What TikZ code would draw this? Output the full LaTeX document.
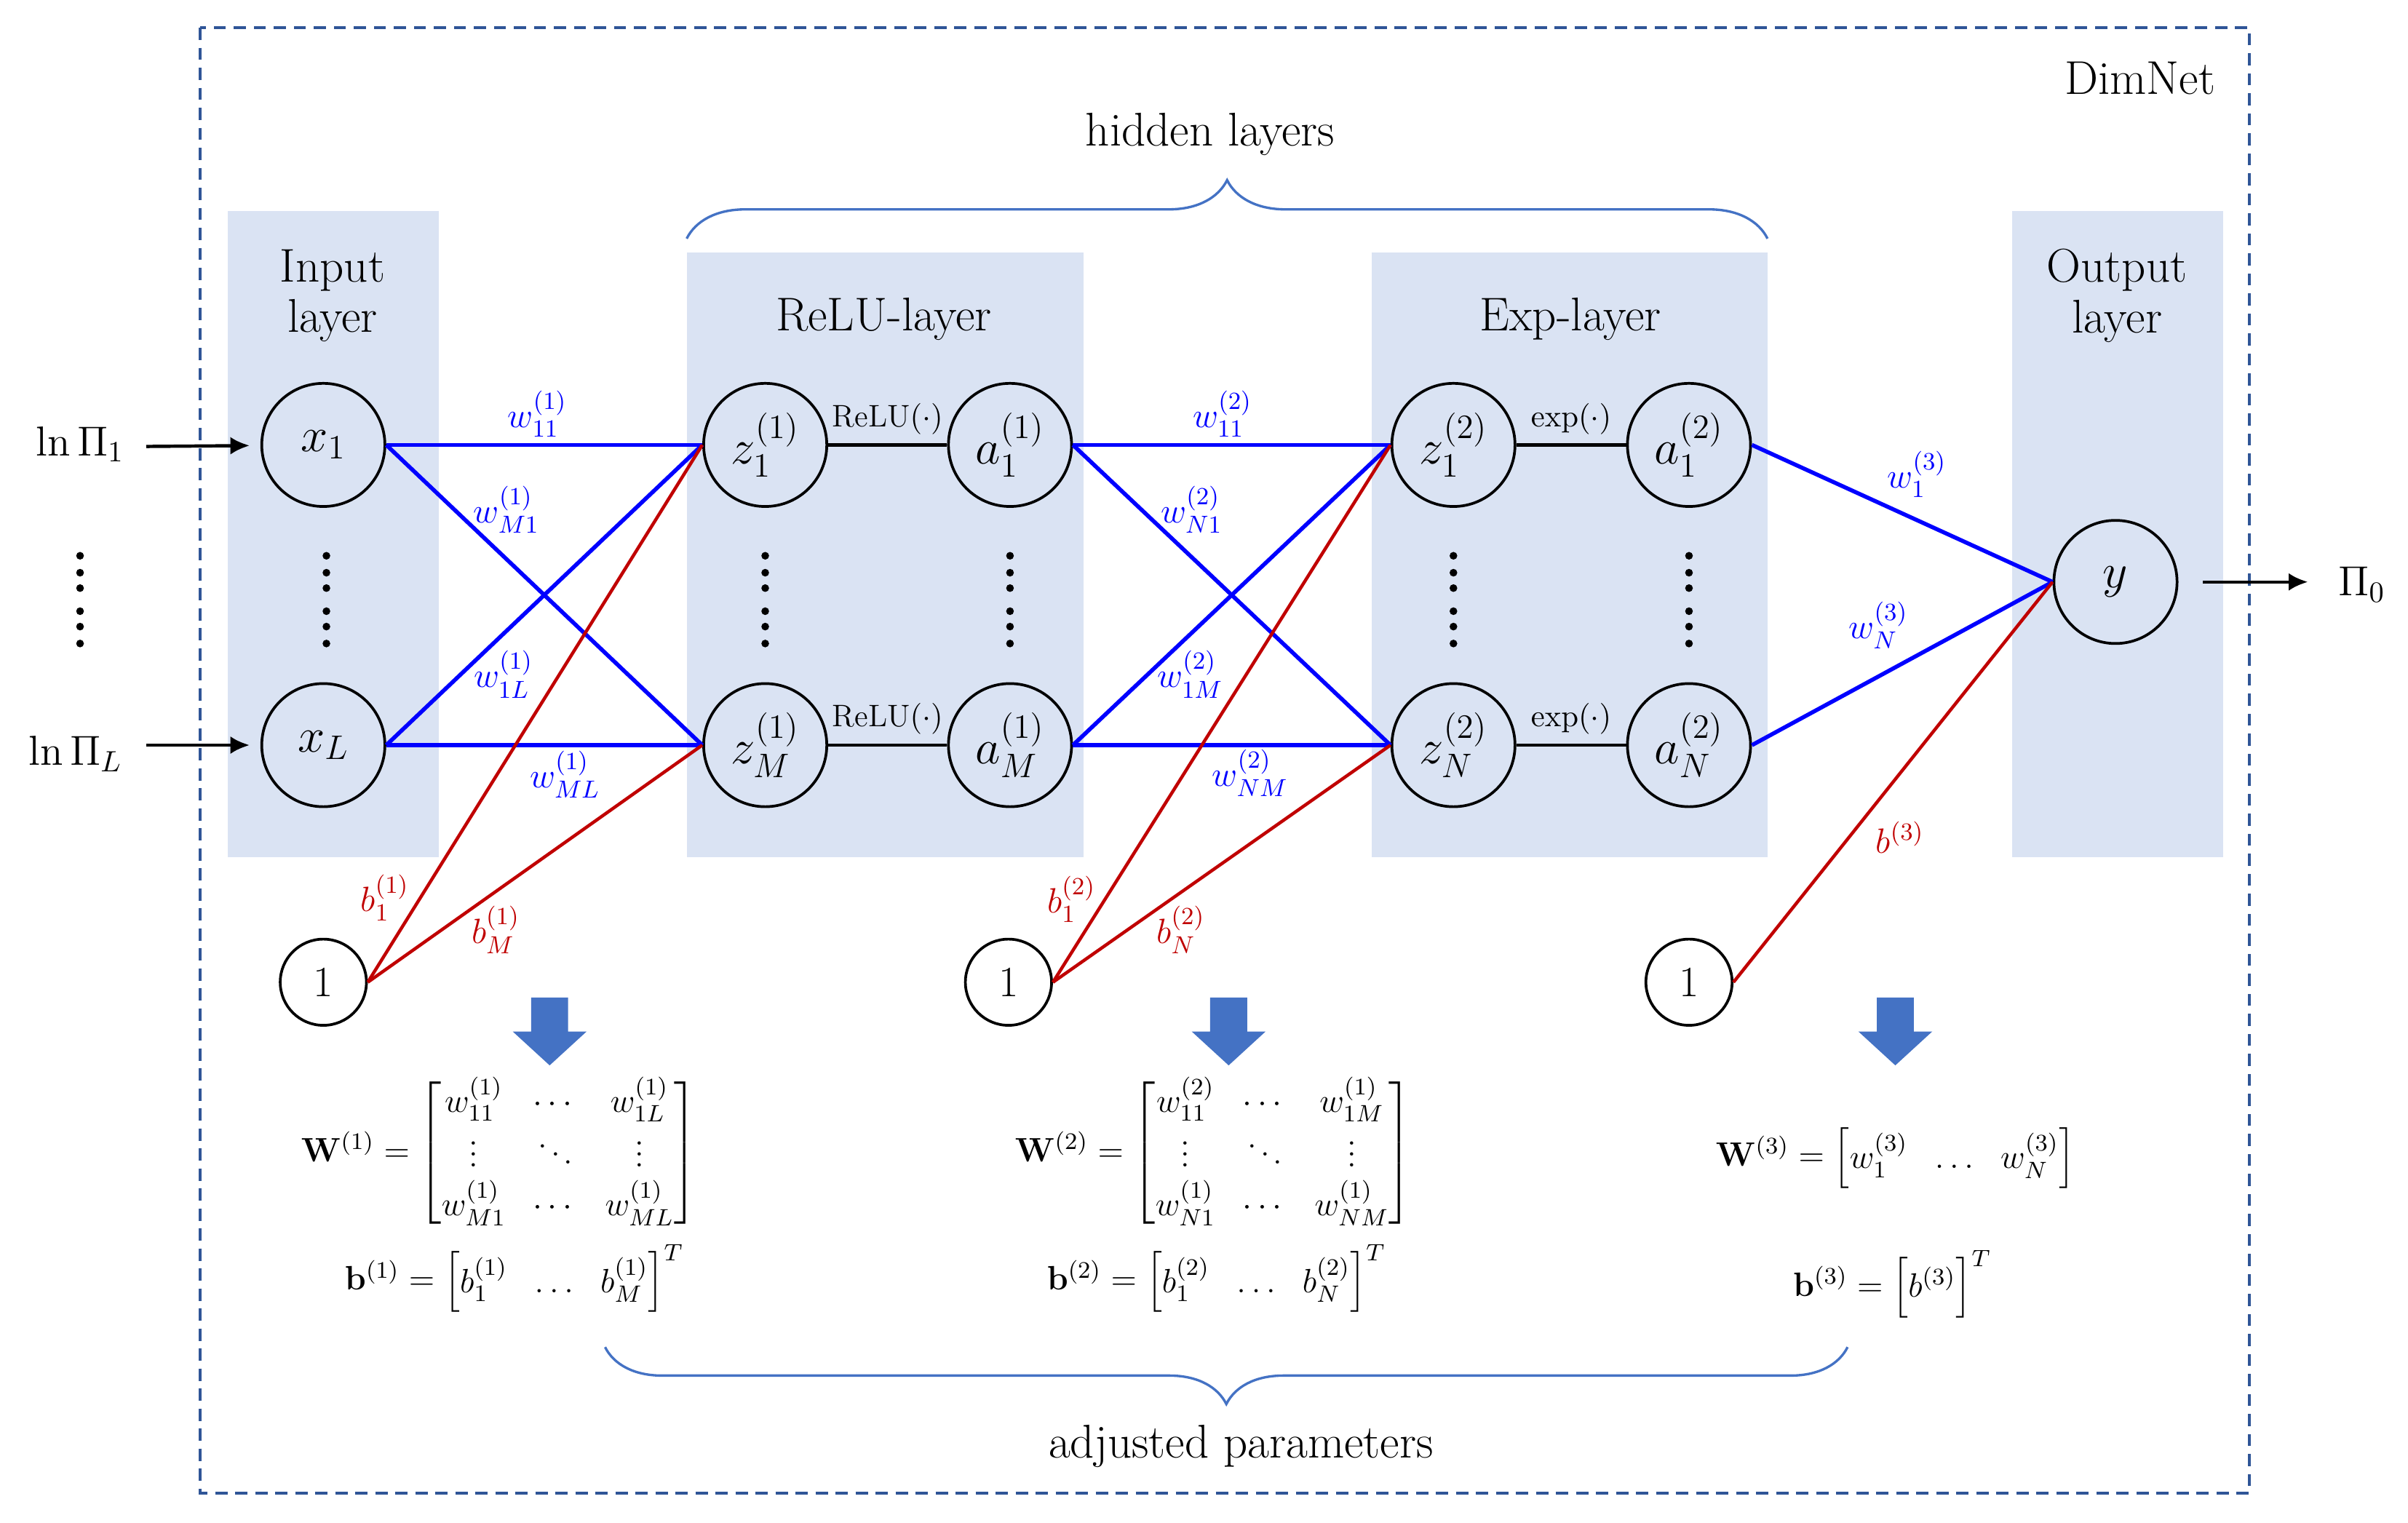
\RequirePackage{fix-cm}
\documentclass[tikz,border=0pt]{standalone}
\usepackage{amsmath,amssymb,xcolor}
\usepackage{tikz}
\usetikzlibrary{decorations.pathreplacing,arrows.meta}
\renewcommand{\arraystretch}{1.12}

\definecolor{boxblue}{HTML}{DAE3F3}
\definecolor{wblue}{HTML}{0000FF}
\definecolor{bred}{HTML}{C00000}
\definecolor{arrowblue}{HTML}{4472C4}
\definecolor{framecol}{HTML}{2F5597}

\tikzset{
    neuron/.style={circle, draw, line width=1pt, minimum size=1.6cm, inner sep=0pt,
      font=\fontsize{18}{21}\selectfont},
    one/.style={circle, draw, line width=1pt, minimum size=1.12cm, inner sep=0pt,
      font=\fontsize{16}{19}\selectfont},
    layerbox/.style={fill=boxblue},
    title/.style={font=\fontsize{17.5}{18.7}\selectfont, align=center},
    wline/.style={wblue, line width=1.5pt},
    bline/.style={bred, line width=1.2pt},
    wlab/.style={text=wblue, font=\fontsize{13}{15}\selectfont},
    blab/.style={text=bred, font=\fontsize{13}{15}\selectfont},
    act/.style={line width=1.2pt},
    actlab/.style={font=\fontsize{11.5}{13}\selectfont, above, midway},
    io/.style={font=\fontsize{15.5}{18}\selectfont},
    param/.style={font=\fontsize{12.5}{15}\selectfont},
    ioarrow/.style={-{Latex[length=0.25cm,width=0.23cm]}, line width=1.2pt},
    hbrace/.style={arrowblue, line width=0.9pt, decorate},
}

\begin{document}
\begin{tikzpicture}[x=0.02cm, y=-0.02cm]
    \useasboundingbox (0,0) rectangle (1564,989);

    % frame
    \draw[framecol, line width=1.1pt, dash pattern=on 0.16cm off 0.1cm] (130,18) rectangle (1461,970);
    \node[title, anchor=base east] (dimnet) at (1445,61) {DimNet};

    % layer boxes
    \fill[layerbox] (148,137) rectangle (285,557);
    \fill[layerbox] (446,164) rectangle (704,557);
    \fill[layerbox] (891,164) rectangle (1148,557);
    \fill[layerbox] (1307,137) rectangle (1444,557);
    \node[title] (tin) at (216,192) {Input\\layer};
    \node[title, anchor=base] (trelu) at (574,215) {ReLU-layer};
    \node[title, anchor=base] (texp) at (1020,215) {Exp-layer};
    \node[title] (tout) at (1375,192) {Output\\layer};

    % braces
    \draw[hbrace, decoration={brace, amplitude=0.76cm}] (446,155) -- (1148,155);
    \node[title, anchor=base] (hidden) at (786,95) {hidden layers};
    \draw[hbrace, decoration={brace, amplitude=0.74cm}] (1200,875) -- (393,875);
    \node[title, anchor=base] (adjusted) at (806,947) {adjusted parameters};

    % neurons
    \node[neuron] (x1) at (210,289) {$x_1$};
    \node[neuron] (xL) at (210,484) {$x_L$};
    \node[neuron] (z1) at (497,289) {$z_1^{(1)}$};
    \node[neuron] (zM) at (497,484) {$z_M^{(1)}$};
    \node[neuron] (a1) at (656,289) {$a_1^{(1)}$};
    \node[neuron] (aM) at (656,484) {$a_M^{(1)}$};
    \node[neuron] (u1) at (944,289) {$z_1^{(2)}$};
    \node[neuron] (uN) at (944,484) {$z_N^{(2)}$};
    \node[neuron] (e1) at (1097,289) {$a_1^{(2)}$};
    \node[neuron] (eN) at (1097,484) {$a_N^{(2)}$};
    \node[neuron] (y) at (1374,378) {$y$};
    \node[one] (one1) at (210,638) {1};
    \node[one] (one2) at (655,638) {1};
    \node[one] (one3) at (1097,638) {1};

    % vertical dots
    \foreach \px in {52,212,497,656,944,1097}
      \foreach \py in {361,372,382,397,407,418}
        \fill (\px,\py) circle[radius=0.05cm];

    % inputs and output
    \coordinate (in1) at (95,290);
    \coordinate (inL) at (95,484);
    \coordinate (out) at (1499,378);
    \draw[ioarrow, shorten >=0.14cm] (in1) -- (x1);
    \draw[ioarrow, shorten >=0.14cm] (inL) -- (xL);
    \draw[ioarrow, shorten <=0.32cm] (y) -- (out);
    \node[io, anchor=base] (lnpi1) at (52,296) {$\ln\Pi_1$};
    \node[io, anchor=base] (lnpiL) at (49,497) {$\ln\Pi_L$};
    \node[io, anchor=base] (pi0) at (1534,387) {$\Pi_0$};

    % layer 1
    \draw[wline] (x1.east) -- (z1.west);
    \draw[wline] (x1.east) -- (zM.west);
    \draw[wline] (xL.east) -- (z1.west);
    \draw[wline] (xL.east) -- (zM.west);
    \draw[bline] (one1.east) -- (z1.west);
    \draw[bline] (one1.east) -- (zM.west);
    \draw[act] (z1) -- node[actlab] (relu1) {ReLU$(\cdot)$} (a1);
    \draw[act] (zM) -- node[actlab] (reluM) {ReLU$(\cdot)$} (aM);
    \node[wlab] (w11a) at (349,269) {$w_{11}^{(1)}$};
    \node[wlab] (wM1a) at (329,331) {$w_{M1}^{(1)}$};
    \node[wlab] (w1La) at (327,438) {$w_{1L}^{(1)}$};
    \node[wlab] (wMLa) at (367,503) {$w_{ML}^{(1)}$};
    \node[blab] (b1a) at (250,583) {$b_1^{(1)}$};
    \node[blab] (bMa) at (322,604) {$b_M^{(1)}$};

    % layer 2
    \draw[wline] (a1.east) -- (u1.west);
    \draw[wline] (a1.east) -- (uN.west);
    \draw[wline] (aM.east) -- (u1.west);
    \draw[wline] (aM.east) -- (uN.west);
    \draw[bline] (one2.east) -- (u1.west);
    \draw[bline] (one2.east) -- (uN.west);
    \draw[act] (u1) -- node[actlab] (exp1) {$\exp(\cdot)$} (e1);
    \draw[act] (uN) -- node[actlab] (expN) {$\exp(\cdot)$} (eN);
    \node[wlab] (w11b) at (794,269) {$w_{11}^{(2)}$};
    \node[wlab] (wN1b) at (774,331) {$w_{N1}^{(2)}$};
    \node[wlab] (w1Mb) at (773,438) {$w_{1M}^{(2)}$};
    \node[wlab] (wNMb) at (812,502) {$w_{NM}^{(2)}$};
    \node[blab] (b1b) at (696,584) {$b_1^{(2)}$};
    \node[blab] (bNb) at (767,604) {$b_N^{(2)}$};

    % layer 3
    \draw[wline] (e1.east) -- (y.west);
    \draw[wline] (eN.east) -- (y.west);
    \draw[bline] (one3.east) -- (y.west);
    \node[wlab] (w1c) at (1245,308) {$w_1^{(3)}$};
    \node[wlab] (wNc) at (1220,406) {$w_N^{(3)}$};
    \node[blab] (bc) at (1234,544) {$b^{(3)}$};

    % block arrows
    \foreach \ax in {357,798,1231}
      \fill[arrowblue] ({\ax-12},648) -- ({\ax+12},648) -- ({\ax+12},670) -- ({\ax+24},670)
        -- (\ax,692) -- ({\ax-24},670) -- ({\ax-12},670) -- cycle;

    % parameters
    \node[param] (W1) at (324,749) {$\mathbf{W}^{(1)} = \begin{bmatrix} w_{11}^{(1)} & \cdots & w_{1L}^{(1)} \\ \vdots & \ddots & \vdots \\ w_{M1}^{(1)} & \cdots & w_{ML}^{(1)} \end{bmatrix}$};
    \node[param, anchor=base] (bv1) at (334,838) {$\mathbf{b}^{(1)} = \begin{bmatrix} b_1^{(1)} & \ldots & b_M^{(1)} \end{bmatrix}^T$};
    \node[param] (W2) at (788,749) {$\mathbf{W}^{(2)} = \begin{bmatrix} w_{11}^{(2)} & \cdots & w_{1M}^{(1)} \\ \vdots & \ddots & \vdots \\ w_{N1}^{(1)} & \cdots & w_{NM}^{(1)} \end{bmatrix}$};
    \node[param, anchor=base] (bv2) at (790,838) {$\mathbf{b}^{(2)} = \begin{bmatrix} b_1^{(2)} & \ldots & b_N^{(2)} \end{bmatrix}^T$};
    \node[param] (W3) at (1231,752) {$\mathbf{W}^{(3)} = \begin{bmatrix} w_1^{(3)} & \ldots & w_N^{(3)} \end{bmatrix}$};
    \node[param, anchor=base] (bv3) at (1229,842) {$\mathbf{b}^{(3)} = \begin{bmatrix} b^{(3)} \end{bmatrix}^T$};
\end{tikzpicture}
\end{document}
